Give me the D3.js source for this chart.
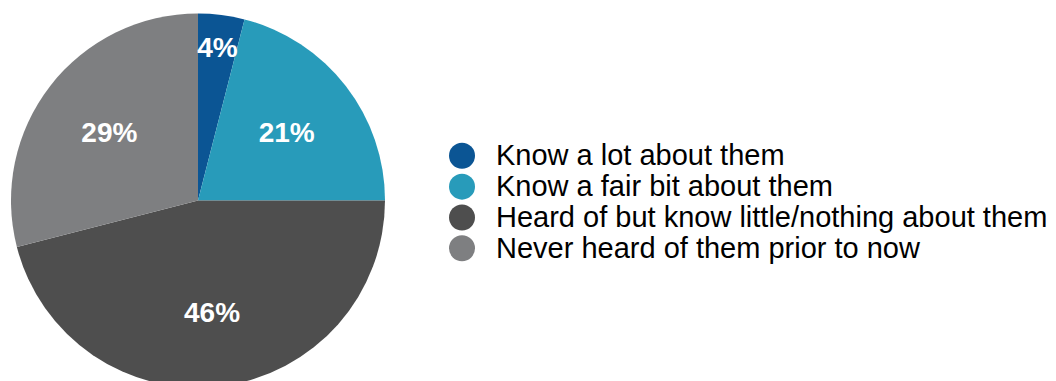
<!DOCTYPE html>
<html>
<head>
<meta charset="utf-8">
<script src="https://cdn.jsdelivr.net/npm/d3@7"></script>
<style>
  html, body { margin: 0; padding: 0; background: #ffffff; }
  svg { display: block; }
</style>
</head>
<body>
<svg id="chart" width="1056" height="381"></svg>
<script>
// Awareness shares, in percent
const categories = [
  "Know a lot about them",
  "Know a fair bit about them",
  "Heard of but know little/nothing about them",
  "Never heard of them prior to now"
];
const shares = [4, 21, 46, 29];
const colors = ["#0b5594", "#289bba", "#4e4e4e", "#7e7f81"];

const svg = d3.select("#chart");
const cx = 198, cy = 200.5, radius = 187;

const pie = d3.pie().sort(null).value(d => d.value);
const arcs = pie(categories.map((c, i) => ({ name: c, value: shares[i], color: colors[i] })));

const arc = d3.arc().innerRadius(0).outerRadius(radius);
const labelArc = d3.arc().innerRadius(radius * 0.6).outerRadius(radius * 0.6);
const smallLabelArc = d3.arc().innerRadius(radius * 0.83).outerRadius(radius * 0.83);

const g = svg.append("g").attr("transform", `translate(${cx},${cy})`);

g.selectAll("path.slice")
  .data(arcs)
  .join("path")
  .attr("class", "slice")
  .attr("d", arc)
  .attr("fill", d => d.data.color);

// Percentage labels; a thin slice gets its label pushed outward
g.selectAll("text.pct")
  .data(arcs)
  .join("text")
  .attr("class", "pct")
  .attr("transform", d => {
    const a = (d.endAngle - d.startAngle) < 0.4 ? smallLabelArc : labelArc;
    return `translate(${a.centroid(d)})`;
  })
  .attr("text-anchor", "middle")
  .attr("dy", "0.36em")
  .attr("fill", "#ffffff")
  .attr("font-family", "Liberation Sans, Arial, sans-serif")
  .attr("font-weight", "bold")
  .attr("font-size", 28)
  .text(d => d.data.value + "%");

// Legend
const legendY = d3.scalePoint().domain(categories).range([155.8, 248.3]);
const legend = svg.append("g");
const rows = legend.selectAll("g.row")
  .data(arcs)
  .join("g")
  .attr("class", "row")
  .attr("transform", d => `translate(462,${legendY(d.data.name)})`);

rows.append("circle")
  .attr("r", 13)
  .attr("fill", d => d.data.color);

rows.append("text")
  .attr("x", 34)
  .attr("dy", "0.33em")
  .attr("fill", "#000000")
  .attr("font-family", "Liberation Sans, Arial, sans-serif")
  .attr("font-size", 29)
  .text(d => d.data.name);
</script>
</body>
</html>
